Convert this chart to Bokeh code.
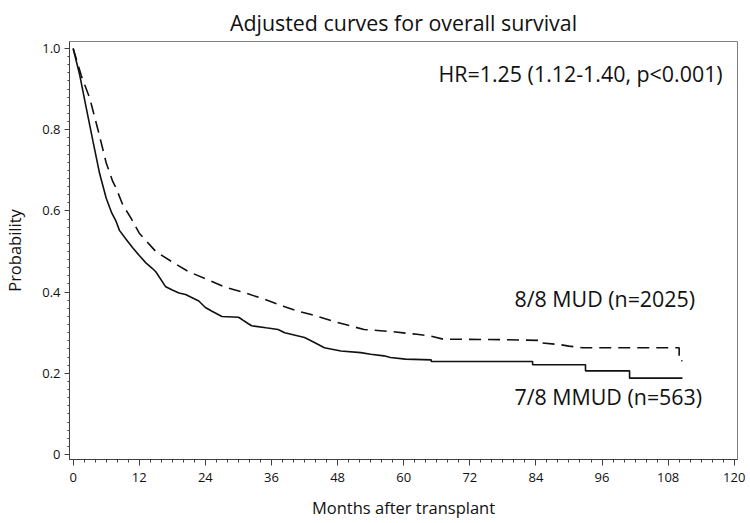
from bokeh.plotting import figure
from bokeh.models import Label, FixedTicker, Range1d
from bokeh.embed import file_html
from bokeh.resources import INLINE

# ---- data ----
# 8/8 MUD (dashed)
mud_months = [0, 1.5, 3.0, 4.5, 6.0, 7.2, 7.8, 9.0, 10.5, 12.0, 14.4, 15.0, 18.0, 21.0,
              24.0, 27.6, 31.2, 34.8, 38.4, 40.8, 43.2, 48.0, 52.8, 57.6, 62.4, 64.8,
              67.2, 78.0, 84.8, 84.8, 88.2, 90.0, 92.4, 110.0, 110.0, 110.6]
mud_surv = [1.0, 0.932, 0.878, 0.800, 0.718, 0.672, 0.656, 0.615, 0.582, 0.545, 0.509,
            0.500, 0.474, 0.450, 0.433, 0.412, 0.398, 0.382, 0.364, 0.353, 0.345, 0.325,
            0.308, 0.303, 0.296, 0.292, 0.284, 0.283, 0.281, 0.275, 0.271, 0.267, 0.263,
            0.263, 0.231, 0.231]

# 7/8 MMUD (solid)
mmud_months = [0, 1.2, 2.4, 3.6, 4.8, 6.0, 7.0, 7.8, 8.4, 9.6, 10.8, 12.0, 13.2, 14.4,
               15.0, 16.8, 18.0, 19.2, 20.4, 21.6, 22.8, 24.0, 25.2, 27.0, 30.0, 30.6,
               31.8, 32.4, 35.0, 37.2, 38.4, 42.0, 43.8, 45.6, 48.6, 52.2, 54.0, 56.4,
               57.6, 60.3, 65.0, 65.0, 83.4, 83.4, 93.0, 93.0, 101.0, 101.0, 110.6]
mmud_surv = [1.0, 0.934, 0.852, 0.771, 0.692, 0.631, 0.595, 0.574, 0.552, 0.530, 0.509,
             0.490, 0.472, 0.458, 0.450, 0.413, 0.405, 0.398, 0.394, 0.386, 0.378, 0.362,
             0.353, 0.340, 0.338, 0.333, 0.322, 0.317, 0.312, 0.308, 0.300, 0.288, 0.276,
             0.263, 0.255, 0.251, 0.247, 0.243, 0.239, 0.235, 0.233, 0.229, 0.229, 0.221,
             0.221, 0.206, 0.206, 0.188, 0.188]

x_ticks = [0, 12, 24, 36, 48, 60, 72, 84, 96, 108, 120]
x_minor_ticks = list(range(0, 121, 2))
y_ticks = [0, 0.2, 0.4, 0.6, 0.8, 1.0]
y_tick_labels = ["0", "0.2", "0.4", "0.6", "0.8", "1.0"]
y_minor_ticks = [round(i * 0.02, 2) for i in range(51)]

title_text = "Adjusted curves for overall survival"
x_label = "Months after transplant"
y_label = "Probability"
hr_text = "HR=1.25 (1.12-1.40, p<0.001)"
mud_text = "8/8 MUD (n=2025)"
mmud_text = "7/8 MMUD (n=563)"

FONT = "Open Sans"
INK = "#111111"
AXIS = "#404040"

p = figure(width=750, height=523, output_backend="svg", toolbar_location=None,
           x_range=Range1d(-0.666, 120.59), y_range=Range1d(-0.0123, 1.0172),
           min_border_left=63, min_border_right=13, min_border_top=40, min_border_bottom=64)

p.title.text = title_text
p.title.align = "center"
p.title.text_font = FONT
p.title.text_font_size = "21.4px"
p.title.text_font_style = "normal"
p.title.text_color = INK
p.title.standoff = 10

p.grid.visible = False
p.outline_line_color = "#808080"
p.outline_line_width = 1
p.background_fill_color = "white"
p.border_fill_color = "white"

p.xaxis.ticker = FixedTicker(ticks=x_ticks, minor_ticks=x_minor_ticks)
p.yaxis.ticker = FixedTicker(ticks=y_ticks, minor_ticks=y_minor_ticks)
p.yaxis.major_label_overrides = dict(zip(y_ticks, y_tick_labels))

for ax in (p.xaxis[0], p.yaxis[0]):
    ax.axis_line_color = AXIS
    ax.major_tick_line_color = AXIS
    ax.minor_tick_line_color = AXIS
    ax.major_tick_in = 0
    ax.minor_tick_in = 0
    ax.major_label_text_font = FONT
    ax.major_label_text_font_size = "13px"
    ax.major_label_text_color = INK
    ax.axis_label_text_font = FONT
    ax.axis_label_text_font_size = "16.5px"
    ax.axis_label_text_font_style = "normal"
    ax.axis_label_text_color = INK

p.xaxis.major_tick_out = 6
p.xaxis.minor_tick_out = 3
p.yaxis.major_tick_out = 5
p.yaxis.minor_tick_out = 2
p.xaxis.major_label_standoff = 7
p.yaxis.major_label_standoff = 4
p.xaxis.axis_label = x_label
p.yaxis.axis_label = y_label
p.xaxis.axis_label_standoff = 11
p.yaxis.axis_label_standoff = 13

p.line(mud_months, mud_surv, line_color=INK, line_width=1.6, line_dash="12 7")
p.line(mmud_months, mmud_surv, line_color=INK, line_width=1.6)

p.add_layout(Label(x=117.9, y=0.9386, text=hr_text, text_align="right", text_baseline="middle",
                   text_font=FONT, text_font_size="21.4px", text_color=INK))
p.add_layout(Label(x=80.1, y=0.383, text=mud_text, text_align="left", text_baseline="middle",
                   text_font=FONT, text_font_size="21.4px", text_color=INK))
p.add_layout(Label(x=80.1, y=0.1425, text=mmud_text, text_align="left", text_baseline="middle",
                   text_font=FONT, text_font_size="21.4px", text_color=INK))

open("out.html", "w").write(file_html(p, INLINE))
